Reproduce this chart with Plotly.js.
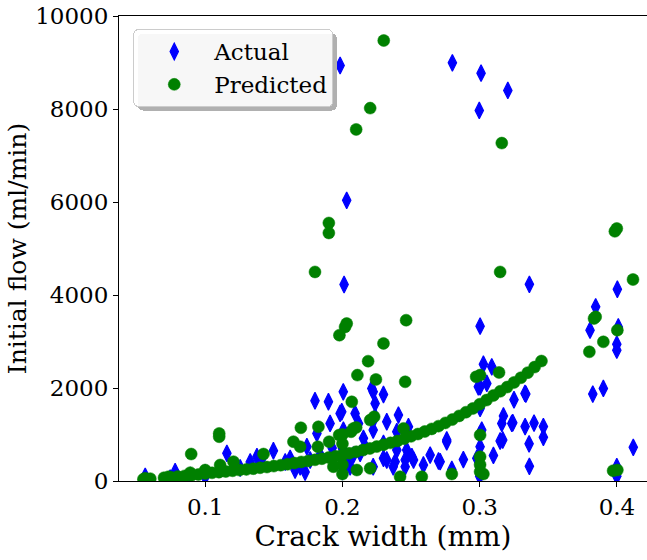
<!DOCTYPE html>
<html>
<head>
<meta charset="utf-8">
<script src="https://cdn.plot.ly/plotly-3.0.1.min.js"></script>
<style>
  html, body { margin: 0; padding: 0; background: #fff; overflow: hidden; }
  #chart { width: 647px; height: 560px; }
</style>
</head>
<body>
<div id="chart"></div>
<script>
// Measured crack widths (mm) and initial flows (ml/min)
const actualWidth = [
  0.0563, 0.0563, 0.0745, 0.0781, 0.0891, 0.1000, 0.1000, 0.1109, 0.1158, 0.1206,
  0.1255, 0.1328, 0.1377, 0.1415, 0.1497, 0.1583, 0.1619, 0.1655, 0.1692, 0.1728,
  0.1741, 0.1765, 0.1814, 0.1800, 0.1838, 0.1898, 0.1910, 0.1925, 0.1983, 0.1995,
  0.2006, 0.2007, 0.2031, 0.2056, 0.2080, 0.2092, 0.2117, 0.2129, 0.2153, 0.2165,
  0.2214, 0.2224, 0.2224, 0.2224, 0.2238, 0.2238, 0.2299, 0.2299, 0.2299, 0.2323,
  0.2323, 0.2370, 0.2384, 0.2396, 0.2396, 0.2408, 0.2457, 0.2457, 0.2468, 0.2481,
  0.2506, 0.2518, 0.2590, 0.2639, 0.2700, 0.2712, 0.2760, 0.2760, 0.2797, 0.2881,
  0.2979, 0.2990, 0.3003, 0.3003, 0.3003, 0.3015, 0.3003, 0.3027, 0.3052, 0.3088,
  0.3100, 0.3149, 0.3161, 0.3168, 0.3173, 0.3234, 0.3241, 0.3250, 0.3330, 0.3331,
  0.3336, 0.3360, 0.3362, 0.3396, 0.3464, 0.3464, 0.2000, 0.2000, 0.2000, 0.3000,
  0.3000, 0.3000, 0.1983, 0.2801, 0.3010, 0.3205, 0.2997, 0.2031, 0.2012, 0.3362,
  0.3804, 0.3845, 0.4003, 0.4010, 0.3999, 0.3999, 0.3824, 0.3901, 0.4119, 0.3999,
  0.3999
];
const actualFlow = [
  100, 40, 60, 200, 120, 180, 90, 250, 595, 300,
  280, 408, 522, 494, 650, 408, 488, 236, 307, 193,
  737, 451, 1023, 1725, 558, 1704, 1239, 709, 1454, 1489,
  1918, 1095, 380, 307, 558, 1454, 1239, 595, 917, 737,
  1991, 1918, 1095, 307, 1669, 1381, 1860, 810, 488, 451,
  1274, 307, 415, 1059, 666, 1418, 451, 307, 666, 1166,
  522, 451, 344, 558, 430, 415, 845, 881, 250, 460,
  488, 2026, 3330, 2026, 1561, 1095, 737, 2510, 2098, 2456,
  550, 860, 1239, 881, 1400, 1239, 1252, 1748, 1884, 1170,
  1869, 800, 315, 1245, 1170, 939, 200, 700, 950, 300,
  100, 1000, 8936, 8993, 8771, 8399, 7969, 6036, 4225, 4230,
  3243, 3745, 4124, 3314, 2943, 2814, 1869, 1991, 724, 307,
  100
];

// Model predictions for the same specimens
const predictedWidth = [
  0.2301, 0.2202, 0.2100, 0.3161, 0.1901, 0.1901, 0.1800, 0.3149, 0.2031, 0.2019,
  0.1978, 0.2464, 0.2299, 0.2187, 0.2109, 0.2244, 0.2457, 0.2068, 0.2231, 0.2202,
  0.2100, 0.2063, 0.2080, 0.2445, 0.1697, 0.1825, 0.1643, 0.1903, 0.1821, 0.1976,
  0.1692, 0.1425, 0.2105, 0.2202, 0.1934, 0.1102, 0.1102, 0.0898, 0.1109, 0.0563,
  0.0733, 0.0891, 0.1000, 0.1206, 0.2420, 0.2578, 0.2797, 0.3003, 0.3003, 0.3003,
  0.3027, 0.3003, 0.2974, 0.3141, 0.2000, 0.2000, 0.2000, 0.2000, 0.3003, 0.4117,
  0.3833, 0.3845, 0.4003, 0.3901, 0.3799, 0.4003, 0.3972, 0.3999, 0.3985,
  0.055, 0.060, 0.070, 0.075, 0.080, 0.085, 0.090, 0.095, 0.100, 0.105,
  0.110, 0.115, 0.120, 0.125, 0.130, 0.135, 0.140, 0.145, 0.150, 0.155,
  0.160, 0.165, 0.170, 0.175, 0.180, 0.185, 0.190, 0.195, 0.200, 0.205,
  0.210, 0.215, 0.220, 0.225, 0.230, 0.235, 0.240, 0.245, 0.250, 0.255,
  0.260, 0.265, 0.270, 0.275, 0.280, 0.285, 0.290, 0.295, 0.300, 0.305,
  0.310, 0.315, 0.320, 0.325, 0.330, 0.335, 0.340, 0.345
];
const predictedFlow = [
  9473, 8019, 7561, 7267, 5549, 5334, 4496, 4496, 3387, 3314,
  3136, 3458, 2958, 2577, 2277, 2184, 2133, 1703, 1381, 1310,
  1153, 1059, 1131, 1131, 1145, 1166, 845, 845, 737, 988,
  737, 580, 236, 272, 307, 1023, 952, 580, 344, 58,
  92, 179, 236, 415, 92, 92, 150, 988, 522, 200,
  150, 2277, 2240, 2335, 150, 350, 800, 1000, 350, 4333,
  3495, 3530, 3243, 2993, 2778, 236, 221, 5430, 5370,
  40, 50, 70, 80, 95, 110, 125, 140, 160, 175,
  190, 205, 220, 235, 250, 265, 285, 300, 320, 340,
  360, 385, 410, 430, 455, 480, 505, 530, 560, 595,
  630, 665, 700, 740, 780, 820, 860, 910, 960, 1010,
  1065, 1120, 1180, 1250, 1320, 1400, 1480, 1560, 1650, 1740,
  1840, 1930, 2020, 2120, 2220, 2330, 2450, 2580
];

const xTicks = [0.1, 0.2, 0.3, 0.4];
const xTickText = ['0.1', '0.2', '0.3', '0.4'];
const yTicks = [0, 2000, 4000, 6000, 8000, 10000];
const yTickText = ['0', '2000', '4000', '6000', '8000', '10000'];

const serif = 'DejaVu Serif';

const traces = [
  {
    type: 'scatter', mode: 'markers', name: 'Actual',
    x: actualWidth, y: actualFlow,
    marker: { symbol: 'diamond-tall', size: 12, color: '#0000ff',
              line: { color: '#0000ff', width: 1.2 } }
  },
  {
    type: 'scatter', mode: 'markers', name: 'Predicted',
    x: predictedWidth, y: predictedFlow,
    marker: { symbol: 'circle', size: 12, color: '#008000',
              line: { color: '#008000', width: 0.5 } }
  }
];

const layout = {
  width: 647, height: 560,
  margin: { l: 119, r: 0, t: 16, b: 79, pad: 0 },
  paper_bgcolor: '#ffffff', plot_bgcolor: '#ffffff',
  font: { family: serif, size: 23, color: '#000000' },
  showlegend: true,
  legend: {
    x: 0.027, y: 0.972, xanchor: 'left', yanchor: 'top',
    bgcolor: 'rgba(255,255,255,0.9)', bordercolor: '#cccccc', borderwidth: 1,
    font: { family: serif, size: 23, color: '#000000' },
    itemwidth: 70, tracegroupgap: 0
  },
  xaxis: {
    range: [0.0372, 0.4219], tickmode: 'array', tickvals: xTicks, ticktext: xTickText,
    ticks: 'outside', ticklen: 5, tickwidth: 1, tickcolor: '#000',
    showline: true, linecolor: '#000', linewidth: 1, mirror: true,
    showgrid: false, zeroline: false, automargin: true,
    tickfont: { family: serif, size: 23 },
    title: { text: 'Crack width (mm)', font: { family: serif, size: 28 }, standoff: 6 }
  },
  yaxis: {
    range: [0, 10000], tickmode: 'array', tickvals: yTicks, ticktext: yTickText,
    ticks: 'outside', ticklen: 5, tickwidth: 1, tickcolor: '#000',
    showline: true, linecolor: '#000', linewidth: 1, mirror: false,
    showgrid: false, zeroline: false, automargin: true,
    tickfont: { family: serif, size: 23 },
    title: { text: 'Initial flow (ml/min)', font: { family: serif, size: 25 }, standoff: 1 }
  }
};

Plotly.newPlot('chart', traces, layout, { displayModeBar: false, staticPlot: true }).then(function (gd) {
  // Rounded legend frame with a soft drop shadow
  const legend = gd.querySelector('.legend');
  const bg = legend && legend.querySelector('rect.bg');
  if (bg) {
    bg.setAttribute('rx', 5);
    bg.setAttribute('ry', 5);
    const shadow = bg.cloneNode(false);
    shadow.removeAttribute('class');
    shadow.setAttribute('style', 'fill:#b0b0b0;stroke:none;');
    shadow.setAttribute('transform', 'translate(4,4)');
    bg.parentNode.insertBefore(shadow, bg);
  }
});
</script>
</body>
</html>
